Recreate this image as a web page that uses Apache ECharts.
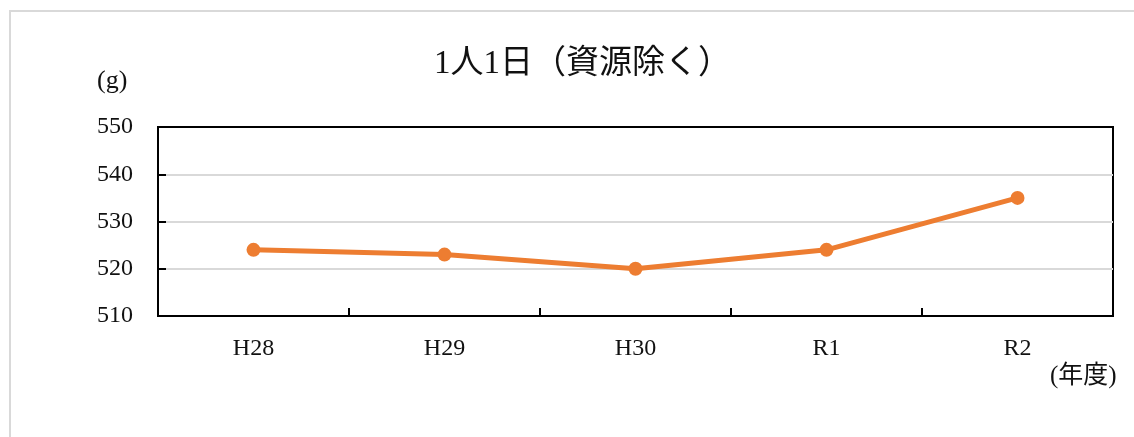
<!DOCTYPE html>
<html><head><meta charset="utf-8">
<script src="https://cdn.jsdelivr.net/npm/echarts@6/dist/echarts.min.js"></script>
<style>html,body{margin:0;padding:0;background:#fff}#c{width:1134px;height:437px}</style>
</head><body><div id="c"></div>
<script>
const titleText = '1人1日（資源除く）';
const categories = ['H28', 'H29', 'H30', 'R1', 'R2'];
const values = [524, 523, 520, 524, 535];
const yUnit = '(g)';
const xUnit = '(年度)';
const FONT = '"Liberation Serif", "DejaVu Serif", "Noto Sans CJK JP", serif';

const chart = echarts.init(document.getElementById('c'));
chart.setOption({
  animation: false,
  backgroundColor: '#fff',
  title: {
    text: titleText, left: 429, top: 43,
    textStyle: { fontFamily: FONT, fontSize: 33, fontWeight: 'normal', color: '#111' }
  },
  graphic: [
    { type: 'rect', shape: { x: 10, y: 11, width: 1140, height: 440 },
      style: { fill: 'none', stroke: '#d9d9d9', lineWidth: 2 } },
    { type: 'text', left: 97, top: 68,
      style: { text: yUnit, font: '26px ' + FONT, fill: '#111' } },
    { type: 'text', left: 1050, top: 364,
      style: { text: xUnit, font: '25px ' + FONT, fill: '#111' } }
  ],
  grid: { left: 158, right: 21, top: 127, bottom: 121, show: true,
          borderColor: '#000', borderWidth: 2, backgroundColor: 'transparent' },
  xAxis: [{
    type: 'category', data: categories, boundaryGap: true,
    axisLine: { show: true, lineStyle: { color: '#000', width: 2 } },
    axisTick: { show: true, inside: true, length: 8, lineStyle: { color: '#000', width: 2 } },
    axisLabel: { fontFamily: FONT, fontSize: 24, color: '#111', margin: 21 }
  }, {
    type: 'category', data: categories, position: 'top', z: 10,
    axisLine: { show: true, lineStyle: { color: '#000', width: 2 } },
    axisTick: { show: false }, axisLabel: { show: false }, splitLine: { show: false }
  }],
  yAxis: {
    type: 'value', min: 510, max: 550, interval: 10,
    axisLine: { show: true, lineStyle: { color: '#000', width: 2 } },
    axisTick: { show: true, inside: true, length: 8, lineStyle: { color: '#000', width: 2 } },
    axisLabel: { fontFamily: FONT, fontSize: 24, color: '#111', margin: 25 },
    splitLine: { show: true, lineStyle: { color: '#d9d9d9', width: 2 } }
  },
  series: [{
    type: 'line', data: values, xAxisIndex: 0,
    lineStyle: { color: '#ED7D31', width: 5 },
    itemStyle: { color: '#ED7D31' },
    symbol: 'circle', symbolSize: 14
  }]
});
</script></body></html>
